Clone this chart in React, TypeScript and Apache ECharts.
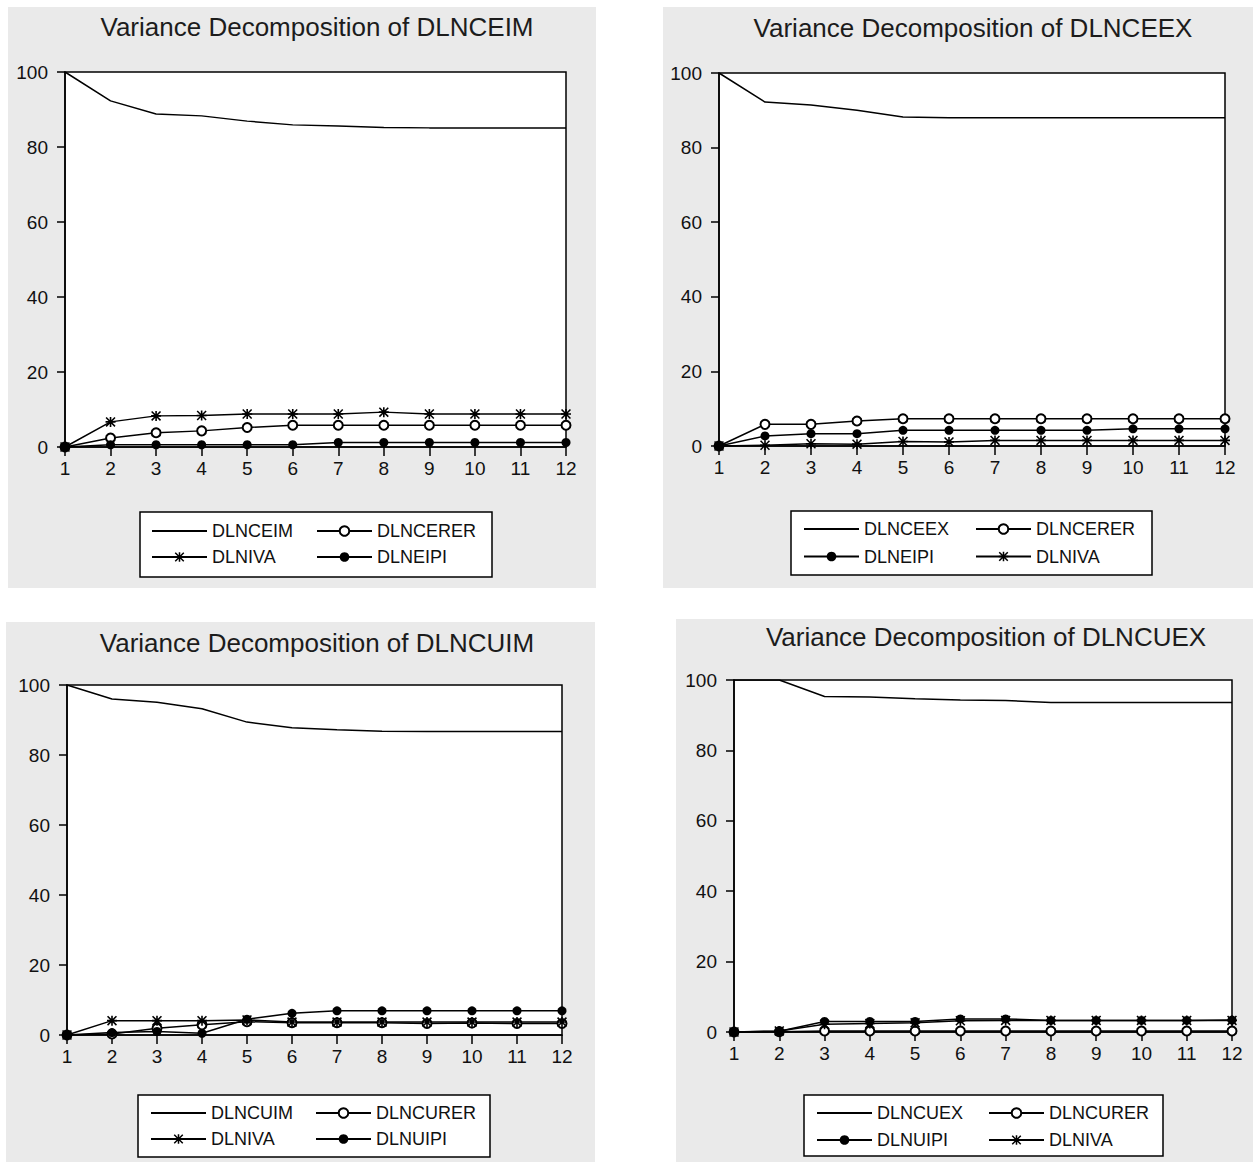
import React, { useEffect, useRef } from "react";
import * as echarts from "echarts";

// ---------- data ----------
const periods = ["1", "2", "3", "4", "5", "6", "7", "8", "9", "10", "11", "12"];
const yMin = 0;
const yMax = 100;
const yStep = 20;

// Panel 1: Variance Decomposition of DLNCEIM
const p1Title = "Variance Decomposition of DLNCEIM";
const p1DLNCEIM = [100, 92.3, 88.8, 88.3, 86.9, 85.9, 85.6, 85.2, 85.1, 85.1, 85.1, 85.1];
const p1DLNCERER = [0, 2.4, 3.8, 4.3, 5.2, 5.8, 5.8, 5.8, 5.8, 5.8, 5.8, 5.8];
const p1DLNIVA = [0, 6.7, 8.3, 8.4, 8.8, 8.8, 8.8, 9.3, 8.8, 8.8, 8.8, 8.8];
const p1DLNEIPI = [0, 0.6, 0.6, 0.6, 0.6, 0.6, 1.2, 1.2, 1.2, 1.2, 1.2, 1.2];

// Panel 2: Variance Decomposition of DLNCEEX
const p2Title = "Variance Decomposition of DLNCEEX";
const p2DLNCEEX = [100, 92.2, 91.4, 90.0, 88.2, 88.0, 88.0, 88.0, 88.0, 88.0, 88.0, 88.0];
const p2DLNCERER = [0, 5.8, 5.8, 6.7, 7.3, 7.3, 7.3, 7.3, 7.3, 7.3, 7.3, 7.3];
const p2DLNEIPI = [0, 2.7, 3.3, 3.3, 4.2, 4.2, 4.2, 4.2, 4.2, 4.6, 4.6, 4.6];
const p2DLNIVA = [0, 0.2, 0.6, 0.5, 1.2, 1.1, 1.5, 1.5, 1.5, 1.5, 1.5, 1.5];

// Panel 3: Variance Decomposition of DLNCUIM
const p3Title = "Variance Decomposition of DLNCUIM";
const p3DLNCUIM = [100, 96.0, 95.1, 93.2, 89.4, 87.8, 87.2, 86.8, 86.7, 86.7, 86.7, 86.7];
const p3DLNCURER = [0, 0.3, 1.9, 2.9, 3.8, 3.5, 3.5, 3.5, 3.3, 3.4, 3.3, 3.3];
const p3DLNIVA = [0, 4.1, 4.1, 4.1, 4.3, 3.7, 3.7, 3.7, 3.7, 3.7, 3.7, 3.7];
const p3DLNUIPI = [0, 0.7, 1.0, 0.5, 4.5, 6.2, 6.9, 6.9, 6.9, 6.9, 6.9, 6.9];

// Panel 4: Variance Decomposition of DLNCUEX
const p4Title = "Variance Decomposition of DLNCUEX";
const p4DLNCUEX = [100, 100, 95.3, 95.2, 94.7, 94.3, 94.2, 93.6, 93.6, 93.6, 93.6, 93.6];
const p4DLNCURER = [0, 0.1, 0.3, 0.3, 0.3, 0.3, 0.3, 0.3, 0.3, 0.3, 0.3, 0.3];
const p4DLNUIPI = [0, 0.2, 3.0, 3.0, 3.0, 3.7, 3.7, 3.3, 3.3, 3.3, 3.3, 3.4];
const p4DLNIVA = [0, 0.3, 2.2, 2.4, 2.6, 3.2, 3.3, 3.3, 3.3, 3.3, 3.3, 3.3];

// ---------- styling / layout ----------
const FONT = "'Liberation Sans', Arial, Helvetica, sans-serif";
const INK = "#111111";
const PANEL_BG = "#eaeaea";
const STAR =
  "path://M4.2,0H5.8V10H4.2Z M0,4.2H10V5.8H0Z M1.1,0L10,8.9L8.9,10L0,1.1Z M8.9,0L10,1.1L1.1,10L0,8.9Z";
const LINE_ICON = "path://M0,0H60V2H0Z";

type Marker = "none" | "empty" | "filled" | "star";
const symbolOf: Record<Marker, string> = {
  none: "none",
  empty: "emptyCircle",
  filled: "circle",
  star: STAR,
};

interface SeriesDef {
  name: string;
  data: number[];
  marker: Marker;
}
interface PanelDef {
  title: string;
  titleX: number;
  titleY: number;
  bg: [number, number, number, number];
  grid: { l: number; t: number; r: number; b: number };
  series: SeriesDef[];
  legendCols: [string[], string[]];
  legendX: [number, number];
  legendTop: number;
  legendGap: number;
  box: [number, number, number, number];
}

const panels: PanelDef[] = [
  {
    title: p1Title,
    titleX: 317,
    titleY: 27,
    bg: [8, 7, 588, 581],
    grid: { l: 65, t: 72, r: 566, b: 447 },
    series: [
      { name: "DLNCEIM", data: p1DLNCEIM, marker: "none" },
      { name: "DLNCERER", data: p1DLNCERER, marker: "empty" },
      { name: "DLNIVA", data: p1DLNIVA, marker: "star" },
      { name: "DLNEIPI", data: p1DLNEIPI, marker: "filled" },
    ],
    legendCols: [["DLNCEIM", "DLNIVA"], ["DLNCERER", "DLNEIPI"]],
    legendX: [151, 316],
    legendTop: 522,
    legendGap: 8,
    box: [140, 512, 352, 65],
  },
  {
    title: p2Title,
    titleX: 973,
    titleY: 28,
    bg: [663, 7, 590, 581],
    grid: { l: 719, t: 73, r: 1225, b: 446 },
    series: [
      { name: "DLNCEEX", data: p2DLNCEEX, marker: "none" },
      { name: "DLNCERER", data: p2DLNCERER, marker: "empty" },
      { name: "DLNEIPI", data: p2DLNEIPI, marker: "filled" },
      { name: "DLNIVA", data: p2DLNIVA, marker: "star" },
    ],
    legendCols: [["DLNCEEX", "DLNEIPI"], ["DLNCERER", "DLNIVA"]],
    legendX: [803, 975],
    legendTop: 520,
    legendGap: 9.5,
    box: [791, 511, 361, 64],
  },
  {
    title: p3Title,
    titleX: 317,
    titleY: 643,
    bg: [6, 622, 589, 540],
    grid: { l: 67, t: 685, r: 562, b: 1035 },
    series: [
      { name: "DLNCUIM", data: p3DLNCUIM, marker: "none" },
      { name: "DLNCURER", data: p3DLNCURER, marker: "empty" },
      { name: "DLNIVA", data: p3DLNIVA, marker: "star" },
      { name: "DLNUIPI", data: p3DLNUIPI, marker: "filled" },
    ],
    legendCols: [["DLNCUIM", "DLNIVA"], ["DLNCURER", "DLNUIPI"]],
    legendX: [150, 315],
    legendTop: 1104,
    legendGap: 8,
    box: [138, 1095, 352, 62],
  },
  {
    title: p4Title,
    titleX: 986,
    titleY: 637,
    bg: [676, 619, 577, 543],
    grid: { l: 734, t: 680, r: 1232, b: 1032 },
    series: [
      { name: "DLNCUEX", data: p4DLNCUEX, marker: "none" },
      { name: "DLNCURER", data: p4DLNCURER, marker: "empty" },
      { name: "DLNUIPI", data: p4DLNUIPI, marker: "filled" },
      { name: "DLNIVA", data: p4DLNIVA, marker: "star" },
    ],
    legendCols: [["DLNCUEX", "DLNUIPI"], ["DLNCURER", "DLNIVA"]],
    legendX: [816, 988],
    legendTop: 1104,
    legendGap: 9,
    box: [804, 1095, 359, 61],
  },
];

function buildOption() {
  const graphic: any[] = [];
  const grid: any[] = [];
  const xAxis: any[] = [];
  const yAxis: any[] = [];
  const series: any[] = [];
  const legend: any[] = [];

  panels.forEach((p, i) => {
    graphic.push({
      type: "rect",
      z: -10,
      silent: true,
      shape: { x: p.bg[0], y: p.bg[1], width: p.bg[2], height: p.bg[3] },
      style: { fill: PANEL_BG },
    });
    graphic.push({
      type: "text",
      z: 5,
      silent: true,
      x: p.titleX,
      y: p.titleY,
      style: {
        text: p.title,
        fill: "#1c1c1c",
        font: `26px ${FONT}`,
        textAlign: "center",
        textVerticalAlign: "middle",
      },
    });
    graphic.push({
      type: "rect",
      z: 1,
      silent: true,
      shape: { x: p.box[0], y: p.box[1], width: p.box[2], height: p.box[3] },
      style: { fill: "#ffffff", stroke: "#000000", lineWidth: 1.5 },
    });

    grid.push({
      left: p.grid.l,
      top: p.grid.t,
      width: p.grid.r - p.grid.l,
      height: p.grid.b - p.grid.t,
      show: true,
      backgroundColor: "#ffffff",
      borderColor: "#000000",
      borderWidth: 1.5,
      containLabel: false,
    });

    xAxis.push({
      gridIndex: i,
      type: "category",
      data: periods,
      boundaryGap: false,
      axisLine: { show: true, lineStyle: { color: "#000", width: 1.5 } },
      axisTick: { show: true, interval: 0, length: 9, lineStyle: { color: "#000", width: 1.5 } },
      axisLabel: { interval: 0, margin: 12, color: INK, fontSize: 19, fontFamily: FONT },
      splitLine: { show: false },
    });

    yAxis.push({
      gridIndex: i,
      type: "value",
      min: yMin,
      max: yMax,
      interval: yStep,
      axisLine: { show: true, lineStyle: { color: "#000", width: 1.5 } },
      axisTick: { show: true, length: 8, lineStyle: { color: "#000", width: 1.5 } },
      axisLabel: { margin: 17, color: INK, fontSize: 19, fontFamily: FONT },
      splitLine: { show: false },
    });

    p.series.forEach((s) => {
      series.push({
        type: "line",
        name: s.name,
        data: s.data,
        xAxisIndex: i,
        yAxisIndex: i,
        symbol: symbolOf[s.marker],
        symbolSize: s.marker === "star" ? 10 : 9,
        showSymbol: s.marker !== "none",
        showAllSymbol: true,
        silent: true,
        lineStyle: { color: "#000", width: 1.5 },
        itemStyle:
          s.marker === "empty"
            ? { color: "#000", borderWidth: 1.5 }
            : { color: "#000" },
        emphasis: { disabled: true },
      });
    });

    const mainName = p.series[0].name;
    p.legendCols.forEach((col, c) => {
      legend.push({
        orient: "vertical",
        left: p.legendX[c],
        top: p.legendTop,
        padding: 0,
        itemGap: p.legendGap,
        itemWidth: 55,
        itemHeight: 12,
        selectedMode: false,
        z: 6,
        textStyle: { fontSize: 18, lineHeight: 18, fontFamily: FONT, color: INK },
        data: col.map((n) => (n === mainName ? { name: n, icon: LINE_ICON } : { name: n })),
      });
    });
  });

  return {
    animation: false,
    backgroundColor: "#ffffff",
    textStyle: { fontFamily: FONT },
    graphic,
    grid,
    xAxis,
    yAxis,
    series,
    legend,
  };
}

export default function App() {
  const ref = useRef<HTMLDivElement>(null);
  useEffect(() => {
    if (!ref.current) return;
    const chart = echarts.init(ref.current, undefined, { renderer: "svg" });
    chart.setOption(buildOption() as any);
    return () => chart.dispose();
  }, []);
  return (
    <div
      ref={ref}
      style={{ position: "absolute", left: 0, top: 0, width: 1255, height: 1164 }}
    />
  );
}
